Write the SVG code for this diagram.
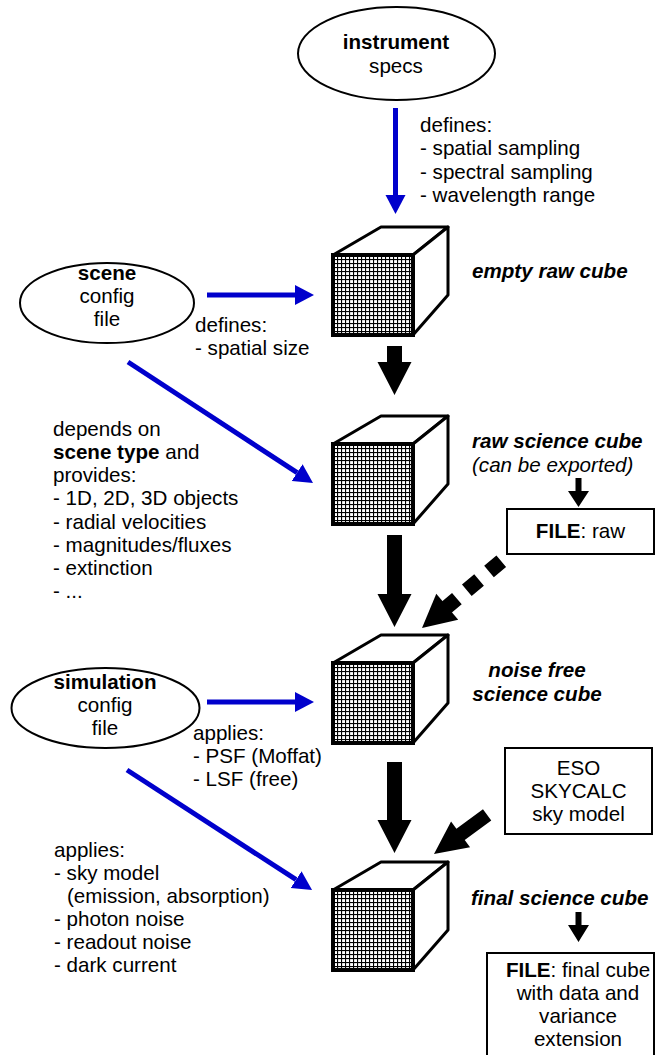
<svg xmlns="http://www.w3.org/2000/svg" xmlns:xlink="http://www.w3.org/1999/xlink" width="656" height="1055" viewBox="0 0 656 1055">
<style>
text{font-family:"Liberation Sans",Arial,sans-serif;font-size:20.6px;fill:#000}
.b{font-weight:bold}
.bi{font-weight:bold;font-style:italic}
.i{font-style:italic}
.m{text-anchor:middle}
.node{fill:#fff;stroke:#000;stroke-width:2}
.blue{stroke:#0000cc;stroke-width:5;fill:none}
.blk{fill:#000;stroke:none}
.face{fill:#fff;stroke:#000;stroke-width:3;stroke-linejoin:round}
.front{fill:url(#grid);stroke:#000;stroke-width:4}
</style>
<defs>
<pattern id="grid" width="4" height="4" patternUnits="userSpaceOnUse">
<rect width="4" height="4" fill="#000"/>
<rect x="1.1" y="1.1" width="2.9" height="2.9" fill="#fff"/>
</pattern>
<marker id="bh" markerUnits="userSpaceOnUse" markerWidth="19" markerHeight="21" refX="0" refY="10" orient="auto" viewBox="0 0 19 20">
<path d="M0,0 L19,10 L0,20 Z" fill="#0000cc"/>
</marker>
<g id="cube">
<polygon class="face" points="0,0 48,-28 115,-28 80,0"/>
<polygon class="face" points="80,0 115,-28 115,40 80,80"/>
<rect class="front" x="0" y="0" width="80" height="80"/>
</g>
</defs>

<g id="instrument">
<ellipse class="node" cx="396.5" cy="53.5" rx="98.5" ry="46.5"/>
<text class="b m" x="396" y="49">instrument</text>
<text class="m" x="396" y="73">specs</text>
</g>

<g id="scene">
<ellipse class="node" cx="107" cy="303" rx="87" ry="40"/>
<text class="b m" x="107" y="280">scene</text>
<text class="m" x="107" y="303">config</text>
<text class="m" x="107" y="326">file</text>
</g>

<g id="simulation">
<ellipse class="node" cx="105.5" cy="708" rx="94" ry="40"/>
<text class="b m" x="105" y="689">simulation</text>
<text class="m" x="105" y="712">config</text>
<text class="m" x="105" y="735">file</text>
</g>

<g id="cube-empty">
<use xlink:href="#cube" transform="translate(333,255)"/>
<text class="bi" x="472" y="278">empty raw cube</text>
</g>

<g id="cube-raw">
<use xlink:href="#cube" transform="translate(333,444)"/>
<text class="bi" x="472" y="448">raw science cube</text>
<text class="i" x="472" y="472">(can be exported)</text>
</g>

<g id="cube-noisefree">
<use xlink:href="#cube" transform="translate(333,663)"/>
<text class="bi m" x="537" y="677">noise free</text>
<text class="bi m" x="537" y="701">science cube</text>
</g>

<g id="cube-final">
<use xlink:href="#cube" transform="translate(333,890)"/>
<text class="bi" x="471" y="905">final science cube</text>
</g>

<g id="file-raw">
<rect class="node" x="507" y="509" width="147" height="45"/>
<text class="m" x="580.5" y="538"><tspan class="b">FILE</tspan>: raw</text>
</g>

<g id="eso-skycalc">
<rect class="node" x="505" y="748" width="147" height="86"/>
<text class="m" x="578.5" y="775">ESO</text>
<text class="m" x="578.5" y="798">SKYCALC</text>
<text class="m" x="578.5" y="821">sky model</text>
</g>

<g id="file-final">
<rect class="node" x="487" y="953" width="167" height="120"/>
<text class="m" x="578" y="977"><tspan class="b">FILE</tspan>: final cube</text>
<text class="m" x="578" y="1000">with data and</text>
<text class="m" x="578" y="1023">variance</text>
<text class="m" x="578" y="1046">extension</text>
</g>

<g id="labels">
<text x="420" y="132">defines:</text>
<text x="420" y="155.3">- spatial sampling</text>
<text x="420" y="178.6">- spectral sampling</text>
<text x="420" y="201.9">- wavelength range</text>
<text x="195" y="332">defines:</text>
<text x="195" y="355">- spatial size</text>
<text x="53" y="435.7">depends on</text>
<text x="53" y="458.9"><tspan class="b">scene type</tspan> and</text>
<text x="53" y="482.1">provides:</text>
<text x="53" y="505.3">- 1D, 2D, 3D objects</text>
<text x="53" y="528.5">- radial velocities</text>
<text x="53" y="551.7">- magnitudes/fluxes</text>
<text x="53" y="574.9">- extinction</text>
<text x="53" y="598.1">- ...</text>
<text x="193" y="740">applies:</text>
<text x="193" y="763">- PSF (Moffat)</text>
<text x="193" y="786">- LSF (free)</text>
<text x="54" y="857">applies:</text>
<text x="54" y="880">- sky model</text>
<text x="67" y="903">(emission, absorption)</text>
<text x="54" y="926">- photon noise</text>
<text x="54" y="949">- readout noise</text>
<text x="54" y="972">- dark current</text>
</g>

<g id="connectors">
<line class="blue" x1="395.5" y1="108" x2="395.5" y2="195" marker-end="url(#bh)"/>
<line class="blue" x1="207" y1="295" x2="295" y2="295" marker-end="url(#bh)"/>
<line class="blue" x1="128" y1="362" x2="297.1" y2="472.6" marker-end="url(#bh)"/>
<line class="blue" x1="207" y1="702" x2="295" y2="702" marker-end="url(#bh)"/>
<line class="blue" x1="127" y1="770" x2="296.1" y2="879.7" marker-end="url(#bh)"/>
<polygon class="blk" points="387,346 402,346 402,362 411.5,362 394.5,395 377.5,362 387,362"/>
<polygon class="blk" points="387,535 402,535 402,594 411.5,594 394.5,627 377.5,594 387,594"/>
<polygon class="blk" points="387,762 402,762 402,820 411.5,820 394.5,853 377.5,820 387,820"/>
<polygon class="blk" points="575.5,478 581.5,478 581.5,491 589,491 578.5,507 568,491 575.5,491"/>
<polygon class="blk" points="575.5,912 581.5,912 581.5,925 589,925 578.5,942 568,925 575.5,925"/>
<g transform="translate(422,628) rotate(139.9)">
<line x1="-103.6" y1="0" x2="-32" y2="0" stroke="#000" stroke-width="15" stroke-dasharray="16 13"/>
<polygon class="blk" points="-33,-17 0,0 -33,17"/>
</g>
<g transform="translate(434,854) rotate(143.6)">
<polygon class="blk" points="-66,-7 -33,-7 -33,-16 0,0 -33,16 -33,7 -66,7"/>
</g>
</g>
</svg>
